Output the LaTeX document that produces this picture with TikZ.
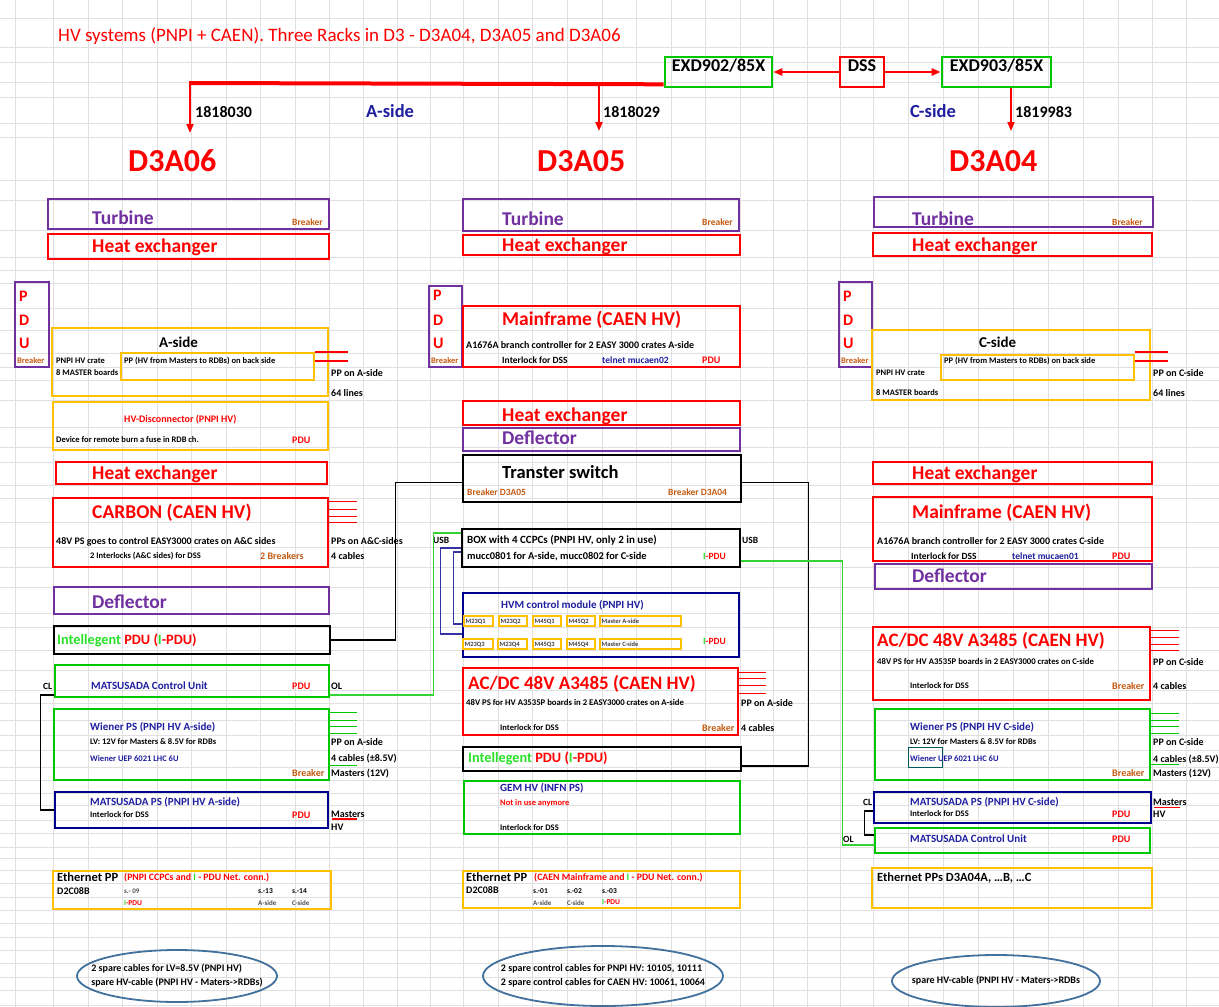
\documentclass[tikz,border=0pt]{standalone}
\usepackage{fontspec}
\setmainfont{Carlito}
\usetikzlibrary{fit,shapes.geometric,arrows.meta}

\definecolor{hvred}{RGB}{255,0,0}
\definecolor{hvgreen}{RGB}{0,200,0}
\definecolor{lgreen}{RGB}{40,225,40}
\definecolor{hvpurple}{RGB}{112,48,160}
\definecolor{hvorange}{RGB}{255,192,0}
\definecolor{navybox}{RGB}{0,0,140}
\definecolor{txtblue}{RGB}{30,30,160}
\definecolor{brk}{RGB}{197,90,17}
\definecolor{ellblue}{RGB}{65,113,156}
\definecolor{gridgray}{RGB}{224,224,224}

\begin{document}
\begin{tikzpicture}[x=1pt,y=-1pt,>={Triangle[length=9pt,width=7pt]}]
\tikzset{box/.style={draw=#1,line width=2.6pt,inner sep=0pt},
         minibox/.style={draw=hvorange,line width=1.2pt,inner sep=0pt},
         txt/.style={anchor=base west,inner sep=0pt,yshift={-0.32*#1},font=\bfseries\fontsize{#1}{#1}\selectfont},
         rtxt/.style={anchor=base west,inner sep=0pt,yshift={-0.32*#1},font=\fontsize{#1}{#1}\selectfont},
         spare/.style={inner sep=0pt,align=left,font=\bfseries\fontsize{10}{14}\selectfont},
         spareline/.style={draw=ellblue,line width=1.8pt},
         redarrow/.style={->,hvred,line width=2pt},
         blkwire/.style={black,line width=1.4pt},
         grnwire/.style={hvgreen!80!white,line width=1.2pt},
         bluwire/.style={navybox!80!white,line width=1.4pt},
         redcable/.style={hvred,line width=1.2pt},
         grncable/.style={hvgreen,line width=1.2pt}}

\useasboundingbox (0,0) rectangle (1219,1007);
\fill[white] (0,0) rectangle (1219,1007);
% spreadsheet grid
\foreach \gx in {15,53,88,122,157,191,226,260,295,329,363,397,430,463,498,532,567,602,636,671,705,740,773,807,840,873,908,943,978,1013,1048,1083,1118,1152,1186}
  \draw[gridgray,line width=0.8pt] (\gx,0) -- (\gx,1007);
\foreach \gy in {18,47,62,82,97,123,137,180,200,230,257,270,283,308,330,353,367,380,400,427,447,462,485,498,522,547,567,587,613,627,650,670,690,703,720,735,750,767,780,793,805,820,833,847,858,870,883,897,910,923,937,950,963,977,990,1005}
  \draw[gridgray,line width=0.8pt] (0,\gy) -- (1219,\gy);

% title, DSS and the racks
\node[rtxt=19,hvred] (title) at (58,35) {HV systems (PNPI + CAEN). Three Racks in D3 - D3A04, D3A05 and D3A06};
\node[box=hvgreen,font=\bfseries\fontsize{18}{18}\selectfont] (exd902) [fit={(665,57)(772,87)}] {EXD902/85X};
\node[box=hvred,font=\bfseries\fontsize{18}{18}\selectfont]   (dss)    [fit={(840,57)(884,87)}] {DSS};
\node[box=hvgreen,font=\bfseries\fontsize{18}{18}\selectfont] (exd903) [fit={(942,57)(1051,87)}] {EXD903/85X};
\draw[redarrow,line width=2.5pt] (dss.west) -- (exd902.east);
\draw[redarrow,line width=2.5pt] (dss.east) -- (exd903.west);

\coordinate (bus06) at (190,83);
\coordinate (bus05) at (599,83);
\coordinate (in06) at (190,133);
\coordinate (in05) at (599,131);
\coordinate (in04) at (1011,131);
\draw[hvred,line width=4pt] ([yshift=4pt]exd902.south west) -- ([xshift=-1pt]bus06);
\draw[redarrow] (bus06) -- (in06);
\draw[redarrow] (bus05) -- (in05);
\draw[redarrow] (exd903.south -| in04) -- (in04);

\node[txt=16] (n06) at (195,112) {1818030};
\node[txt=18.5,txtblue] (sideA) at (366,112) {A-side};
\node[txt=16] (n05) at (603,112) {1818029};
\node[txt=18.5,txtblue] (sideC) at (910,112) {C-side};
\node[txt=16] (n04) at (1015,112) {1819983};
\node[txt=32,hvred] (d3a06) at (128,161) {D3A06};
\node[txt=32,hvred] (d3a05) at (537,161) {D3A05};
\node[txt=32,hvred] (d3a04) at (949,161) {D3A04};

% ---------------- D3A06 ----------------
\node[box=hvpurple] (turbA) [fit={(48,199)(329,229)}] {};
\node[txt=19.5,hvpurple] (turbAt) at (92,218) {Turbine};
\node[txt=9.5,brk] (turbAb) at (292,222) {Breaker};
\node[box=hvred] (heatA) [fit={(48,234)(329,259)}] {};
\node[txt=19.5,hvred] (heatAt) at (92,246) {Heat exchanger};

\node[box=hvpurple] (pduA) [fit={(15,282)(49,367)}] {};
\node[txt=16,hvred] (pduAp) at (19,296) {P};
\node[txt=16,hvred] (pduAd) at (19,320) {D};
\node[txt=16,hvred] (pduAu) at (19,343) {U};
\node[txt=8.5,brk] (pduAb) at (17,361) {Breaker};

\node[box=hvorange] (crateA) [fit={(52,328)(328,396)}] {};
\node[txt=15] (crateAt) at (159,343) {A-side};
\node[box=hvorange,line width=2.2pt] (ppA) [fit={(121,353)(314,380)}] {};
\node[txt=8.5] (crateA1) at (56,361) {PNPI HV crate};
\node[txt=8.5] (crateA2) at (56,373) {8 MASTER boards};
\node[txt=8.5] (ppAt) at (124,361) {PP (HV from Masters to RDBs) on back side};
\draw[redcable] (ppA.north east) -- ++(33,0);
\draw[redcable] ([yshift=-9pt]ppA.north east) -- ++(33,0);
\node[txt=10] (crateA3) at (331,373) {PP on A-side};
\node[txt=10] (crateA4) at (331,393) {64 lines};

\node[box=hvorange] (hvdA) [fit={(53,402)(328,450)}] {};
\node[txt=10,hvred] (hvdAt) at (124,419) {HV-Disconnector (PNPI HV)};
\node[txt=8.5] (hvdA1) at (56,440) {Device for remote burn a fuse in RDB ch.};
\node[txt=10,hvred] (hvdA2) at (292,440) {PDU};

\node[box=hvred] (heatA2) [fit={(56,462)(327,484)}] {};
\node[txt=19.5,hvred] (heatA2t) at (92,473) {Heat exchanger};

\node[box=hvred] (carbA) [fit={(53,498)(328,567)}] {};
\node[txt=19.5,hvred] (carbAt) at (92,512) {CARBON (CAEN HV)};
\node[txt=10] (carbA1) at (56,541) {48V PS goes to control EASY3000 crates on A\&C sides};
\node[txt=8.5] (carbA2) at (90,556) {2 Interlocks (A\&C sides) for DSS};
\node[txt=10,brk] (carbA3) at (260,556) {2 Breakers};
\foreach \dy in {5,13,20,26} \draw[redcable] ([yshift=-\dy pt]carbA.north east) -- ++(28,0);
\node[txt=10] (carbA4) at (331,541) {PPs on A\&C-sides};
\node[txt=10] (carbA5) at (331,556) {4 cables};

\node[box=hvpurple] (deflA) [fit={(54,587)(329,614)}] {};
\node[txt=19.5,hvpurple] (deflAt) at (92,602) {Deflector};

\node[box=black] (ipduA) [fit={(54,626)(330,654)}] {};
\node[txt=14.3,hvred] (ipduAt) at (57,640) {{\color{lgreen}Intellegent} PDU ({\color{lgreen}I}-PDU)};

\node[box=hvgreen] (mcuA) [fit={(55,665)(329,697)}] {};
\node[txt=11,txtblue] (mcuAt) at (91,686) {MATSUSADA Control Unit};
\node[txt=10,hvred] (mcuAp) at (292,686) {PDU};
\node[txt=9.5] (clA) at (43,686) {CL};
\node[txt=10] (olA) at (331,686) {OL};

\node[box=hvgreen] (wienA) [fit={(54,709)(329,780)}] {};
\node[txt=11,txtblue] (wienAt) at (90,727) {Wiener PS (PNPI HV A-side)};
\node[txt=8.5] (wienA1) at (90,742) {LV: 12V for Masters \& 8.5V for RDBs};
\node[txt=8.5,txtblue] (wienA2) at (90,759) {Wiener UEP 6021 LHC 6U};
\node[txt=10,brk] (wienA3) at (292,773) {Breaker};
\foreach \dy in {5,13,19,26,58} \draw[grncable] ([yshift=-\dy pt]wienA.north east) -- ++(27,0);
\node[txt=10] (wienA4) at (331,742) {PP on A-side};
\node[txt=10] (wienA5) at (331,758) {4 cables (±8.5V)};
\node[txt=10] (wienA6) at (331,773) {Masters (12V)};

\node[box=navybox] (mpsA) [fit={(55,792)(328,828)}] {};
\node[txt=11,txtblue] (mpsAt) at (90,802) {MATSUSADA PS (PNPI HV A-side)};
\node[txt=8.5] (mpsA1) at (90,815) {Interlock for DSS};
\node[txt=10,hvred] (mpsA2) at (292,815) {PDU};
\node[txt=10] (mpsA3) at (331,814) {Masters};
\node[txt=10] (mpsA4) at (331,827) {HV};
\draw[redcable] ([xshift=3pt,yshift=-9pt]mpsA.east) -- ++(25,0);

\node[box=hvorange] (ethA) [fit={(53,871)(331,909)}] {};
\node[txt=12.5] (ethAt) at (57,877) {Ethernet PP};
\node[txt=9.8,hvred] (ethA1) at (124,877) {(PNPI CCPCs and {\color{lgreen}I} - PDU Net. conn.)};
\node[txt=10] (ethA2) at (57,891) {D2C08B};
\node[txt=7,black!70] (ethA3) at (124,891) {s.- 09};
\node[txt=7.5,hvred] (ethA4) at (124,903) {{\color{lgreen}I}-PDU};
\node[txt=7.5] (ethA5) at (258,891) {s.-13};
\node[txt=7.5] (ethA6) at (292,891) {s.-14};
\node[txt=7,black!70] (ethA7) at (258,903) {A-side};
\node[txt=7,black!70] (ethA8) at (292,903) {C-side};

\node[spare] (ellA) at (177,976) {2 spare cables for LV=8.5V (PNPI HV)\\spare HV-cable (PNPI HV - Maters->RDBs)};
\draw[spareline] (ellA.center) ellipse [x radius=100pt,y radius=26pt];

% ---------------- D3A05 ----------------
\node[box=hvpurple] (turbB) [fit={(463,199)(739,231)}] {};
\node[txt=19.5,hvpurple] (turbBt) at (502,219) {Turbine};
\node[txt=9.5,brk] (turbBb) at (702,222) {Breaker};
\node[box=hvred] (heatB) [fit={(463,235)(740,255)}] {};
\node[txt=19.5,hvred] (heatBt) at (502,245) {Heat exchanger};

\node[box=hvpurple] (pduB) [fit={(429,286)(462,367)}] {};
\node[txt=16,hvred] (pduBp) at (433,295) {P};
\node[txt=16,hvred] (pduBd) at (433,320) {D};
\node[txt=16,hvred] (pduBu) at (433,343) {U};
\node[txt=8.5,brk] (pduBb) at (431,361) {Breaker};

\node[box=hvred] (mainB) [fit={(463,306)(740,367)}] {};
\node[txt=19.5,hvred] (mainBt) at (502,319) {Mainframe (CAEN HV)};
\node[txt=10] (mainB1) at (466,345) {A1676A branch controller for 2 EASY 3000 crates A-side};
\node[txt=9.5] (mainB2) at (502,360) {Interlock for DSS};
\node[txt=9.5,txtblue] (mainB3) at (602,360) {telnet mucaen02};
\node[txt=10,hvred] (mainB4) at (702,360) {PDU};

\node[box=hvred] (heatB2) [fit={(463,401)(740,425)}] {};
\node[txt=19.5,hvred] (heatB2t) at (502,415) {Heat exchanger};
\node[box=hvpurple] (deflB) [fit={(463,428)(740,451)}] {};
\node[txt=19.5,hvpurple] (deflBt) at (502,438) {Deflector};

\node[box=black] (tsw) [fit={(463,455)(741,502)}] {};
\node[txt=18.5] (tswt) at (502,473) {Transter switch};
\node[txt=9.5,brk] (tsw1) at (467,492) {Breaker D3A05};
\node[txt=9.5,brk] (tsw2) at (668,492) {Breaker D3A04};

\node[box=black] (boxcc) [fit={(462,529)(740,567)}] {};
\node[txt=11] (boxcct) at (467,540) {BOX with 4 CCPCs (PNPI HV, only 2 in use)};
\node[txt=10.4] (boxcc1) at (467,556) {mucc0801 for A-side, mucc0802 for C-side};
\node[txt=9.5,hvred] (boxcc2) at (703,556) {{\color{lgreen}I}-PDU};
\node[txt=9.5] (usbA) at (433,540) {USB};
\node[txt=9.5] (usbC) at (742,540) {USB};

\node[box=navybox] (hvm) [fit={(463,593)(739,657)}] {};
\node[txt=11,txtblue] (hvmt) at (501,605) {HVM control module (PNPI HV)};
\foreach \lbl/\xa/\xb [count=\i] in {M23Q1/464/493,M23Q2/499/527,M45Q1/533/561,M45Q2/567/595,Master A-side/600/681}{
  \node[minibox] (mqa\i) [fit={(\xa,616)(\xb,626)}] {};
  \node[txt=6.5,black!75] (mqat\i) at (\xa+1.5,621) {\lbl};
}
\foreach \lbl/\xa/\xb [count=\i] in {M23Q3/463/493,M23Q4/498/527,M45Q3/533/561,M45Q4/567/595,Master C-side/600/681}{
  \node[minibox] (mqc\i) [fit={(\xa,639)(\xb,649)}] {};
  \node[txt=6.5,black!75] (mqct\i) at (\xa+1.5,644) {\lbl};
}
\node[txt=9.5,hvred] (hvm1) at (703,641) {{\color{lgreen}I}-PDU};

\node[box=hvred] (acdcB) [fit={(463,668)(738,735)}] {};
\node[txt=19,hvred] (acdcBt) at (468,683) {AC/DC 48V A3485 (CAEN HV)};
\node[txt=8.7] (acdcB1) at (466,703) {48V PS for HV A3535P boards in 2 EASY3000 crates on A-side};
\node[txt=8.5] (acdcB2) at (500,728) {Interlock for DSS};
\node[txt=10,brk] (acdcB3) at (702,728) {Breaker};
\foreach \dy in {6,12,19,27} \draw[redcable] ([yshift=-\dy pt]acdcB.north east) -- ++(27,0);
\node[txt=10] (acdcB4) at (741,703) {PP on A-side};
\node[txt=10] (acdcB5) at (741,728) {4 cables};

\node[box=black] (ipduB) [fit={(463,747)(741,771)}] {};
\node[txt=14.3,hvred] (ipduBt) at (468,758) {{\color{lgreen}Intellegent} PDU ({\color{lgreen}I}-PDU)};

\node[box=hvgreen] (gem) [fit={(464,781)(740,834)}] {};
\node[txt=11,txtblue] (gemt) at (500,788) {GEM HV (INFN PS)};
\node[txt=8.5,hvred] (gem1) at (500,803) {Not in use anymore};
\node[txt=8.5] (gem2) at (500,828) {Interlock for DSS};

\node[box=hvorange] (ethB) [fit={(463,871)(740,908)}] {};
\node[txt=12.5] (ethBt) at (466,877) {Ethernet PP};
\node[txt=9.8,hvred] (ethB1) at (534,877) {(CAEN Mainframe and {\color{lgreen}I} - PDU Net. conn.)};
\node[txt=10] (ethB2) at (466,890) {D2C08B};
\node[txt=7.5] (ethB3) at (533,891) {s.-01};
\node[txt=7.5] (ethB4) at (567,891) {s.-02};
\node[txt=7.5] (ethB5) at (602,891) {s.-03};
\node[txt=7,black!70] (ethB6) at (533,903) {A-side};
\node[txt=7,black!70] (ethB7) at (567,903) {C-side};
\node[txt=7.5,hvred] (ethB8) at (602,902) {{\color{lgreen}I}-PDU};

\node[spare] (ellB) at (603,976) {2 spare control cables for PNPI HV: 10105, 10111\\2 spare control cables for CAEN HV: 10061, 10064};
\draw[spareline] (ellB.center) ellipse [x radius=120pt,y radius=30pt];

% ---------------- D3A04 ----------------
\node[box=hvpurple] (turbC) [fit={(874,197)(1153,227)}] {};
\node[txt=19.5,hvpurple] (turbCt) at (912,219) {Turbine};
\node[txt=9.5,brk] (turbCb) at (1112,222) {Breaker};
\node[box=hvred] (heatC) [fit={(873,233)(1152,256)}] {};
\node[txt=19.5,hvred] (heatCt) at (912,245) {Heat exchanger};

\node[box=hvpurple] (pduC) [fit={(839,282)(872,367)}] {};
\node[txt=16,hvred] (pduCp) at (843,296) {P};
\node[txt=16,hvred] (pduCd) at (843,320) {D};
\node[txt=16,hvred] (pduCu) at (843,343) {U};
\node[txt=8.5,brk] (pduCb) at (841,361) {Breaker};

\node[box=hvorange] (crateC) [fit={(872,330)(1150,400)}] {};
\node[txt=15] (crateCt) at (979,343) {C-side};
\node[box=hvorange,line width=2.2pt] (ppC) [fit={(941,355)(1134,380)}] {};
\node[txt=8.5] (ppCt) at (944,361) {PP (HV from Masters to RDBs) on back side};
\node[txt=8.5] (crateC1) at (876,373) {PNPI HV crate};
\node[txt=8.5] (crateC2) at (876,393) {8 MASTER boards};
\draw[redcable] ([yshift=2pt]ppC.north east) -- ++(33,0);
\draw[redcable] ([yshift=-7pt]ppC.north east) -- ++(33,0);
\node[txt=10] (crateC3) at (1153,373) {PP on C-side};
\node[txt=10] (crateC4) at (1153,393) {64 lines};

\node[box=hvred] (heatC2) [fit={(873,462)(1152,484)}] {};
\node[txt=19.5,hvred] (heatC2t) at (912,473) {Heat exchanger};

\node[box=hvred] (mainC) [fit={(873,497)(1152,561)}] {};
\node[txt=19.5,hvred] (mainCt) at (912,512) {Mainframe (CAEN HV)};
\node[txt=10] (mainC1) at (877,541) {A1676A branch controller for 2 EASY 3000 crates C-side};
\node[txt=9.5] (mainC2) at (911,556) {Interlock for DSS};
\node[txt=9.5,txtblue] (mainC3) at (1012,556) {telnet mucaen01};
\node[txt=10,hvred] (mainC4) at (1112,556) {PDU};

\node[box=hvpurple] (deflC) [fit={(875,564)(1152,589)}] {};
\node[txt=19.5,hvpurple] (deflCt) at (912,576) {Deflector};

\node[box=hvred] (acdcC) [fit={(873,627)(1150,700)}] {};
\node[txt=19,hvred] (acdcCt) at (877,640) {AC/DC 48V A3485 (CAEN HV)};
\node[txt=8.7] (acdcC1) at (877,662) {48V PS for HV A3535P boards in 2 EASY3000 crates on C-side};
\node[txt=8.5] (acdcC2) at (910,686) {Interlock for DSS};
\node[txt=10,brk] (acdcC3) at (1112,686) {Breaker};
\foreach \dy in {5,12,19,25} \draw[redcable] ([yshift=-\dy pt]acdcC.north east) -- ++(28,0);
\node[txt=10] (acdcC4) at (1153,662) {PP on C-side};
\node[txt=10] (acdcC5) at (1153,686) {4 cables};

\node[box=hvgreen] (wienC) [fit={(875,709)(1150,780)}] {};
\node[txt=11,txtblue] (wienCt) at (910,727) {Wiener PS (PNPI HV C-side)};
\node[txt=8.5] (wienC1) at (910,742) {LV: 12V for Masters \& 8.5V for RDBs};
\draw[teal!70!black,line width=0.8pt] (908,747) rectangle (942,767);
\node[txt=8.5,txtblue] (wienC2) at (910,759) {Wiener UEP 6021 LHC 6U};
\node[txt=10,brk] (wienC3) at (1112,773) {Breaker};
\foreach \dy in {6,13,19,26,57} \draw[grncable] ([yshift=-\dy pt]wienC.north east) -- ++(28,0);
\node[txt=10] (wienC4) at (1153,742) {PP on C-side};
\node[txt=10] (wienC5) at (1153,759) {4 cables (±8.5V)};
\node[txt=10] (wienC6) at (1153,773) {Masters (12V)};

\node[box=navybox] (mpsC) [fit={(874,792)(1151,823)}] {};
\node[txt=11,txtblue] (mpsCt) at (910,802) {MATSUSADA PS (PNPI HV C-side)};
\node[txt=8.5] (mpsC1) at (910,814) {Interlock for DSS};
\node[txt=10,hvred] (mpsC2) at (1112,814) {PDU};
\node[txt=10] (mpsC3) at (1153,802) {Masters};
\node[txt=10] (mpsC4) at (1153,814) {HV};
\draw[redcable] ([xshift=2pt]mpsC.east) -- ++(26,0);
\node[txt=9.5] (clC) at (863,802) {CL};

\node[box=hvgreen] (mcuC) [fit={(875,828)(1150,853)}] {};
\node[txt=11,txtblue] (mcuCt) at (910,839) {MATSUSADA Control Unit};
\node[txt=10,hvred] (mcuCp) at (1112,839) {PDU};
\node[txt=9.5] (olC) at (843,839) {OL};

\node[box=hvorange] (ethC) [fit={(872,868)(1152,908)}] {};
\node[txt=12.5] (ethCt) at (877,877) {Ethernet PPs D3A04A, …B, …C};

\node[spare] (ellC) at (996,981) {spare HV-cable (PNPI HV - Maters->RDBs};
\draw[spareline] (ellC.center) ellipse [x radius=104pt,y radius=26pt];

% ---------------- cables between the boxes ----------------
\draw[blkwire] ([yshift=-14pt]mcuA.west) -- ++(-13,0) |- (mpsA.west);
\draw[grnwire] ([yshift=-14pt]mcuA.east) -- ++(103,0) |- ([yshift=15pt]boxcc.west);
\draw[blkwire] ([yshift=-4pt]tsw.west) -- ++(-66,0) |- (ipduA.east);
\draw[blkwire] ([yshift=-4pt]tsw.east) -- ++(66,0) |- ([yshift=-7pt]ipduB.east);
\draw[bluwire] (boxcc.west) -- ++(-20,0) |- ([yshift=-9pt]hvm.west);
\draw[bluwire] ([yshift=-4pt]boxcc.west) -- ++(-7,0) |- ([yshift=1pt]hvm.west);
\draw[grnwire] ([yshift=-13pt]boxcc.east) -- ++(101,0) |- ([yshift=-4.5pt]mcuC.west);
\draw[blkwire] ([yshift=-3.5pt]mpsC.west) -- ++(-8,0) |- ([yshift=5.5pt]mcuC.west);
\end{tikzpicture}
\end{document}
